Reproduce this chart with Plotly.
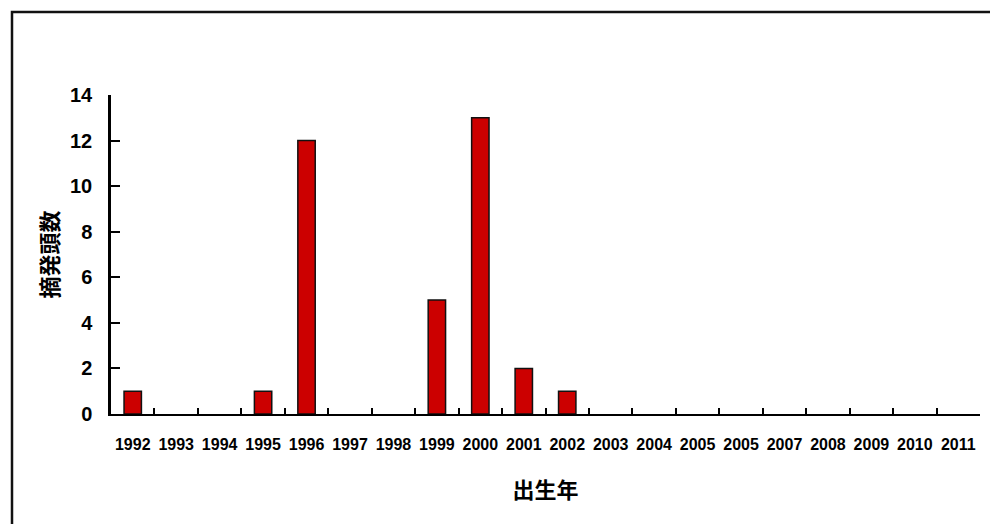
import plotly.graph_objects as go

years = ["1992", "1993", "1994", "1995", "1996", "1997", "1998", "1999", "2000", "2001",
         "2002", "2003", "2004", "2005", "2006", "2007", "2008", "2009", "2010", "2011"]
tick_labels = ["1992", "1993", "1994", "1995", "1996", "1997", "1998", "1999", "2000", "2001",
               "2002", "2003", "2004", "2005", "2005", "2007", "2008", "2009", "2010", "2011"]
counts = [1, 0, 0, 1, 12, 0, 0, 5, 13, 2, 1, 0, 0, 0, 0, 0, 0, 0, 0, 0]
y_ticks = [0, 2, 4, 6, 8, 10, 12, 14]

W, H = 990, 524
ML, MR, MT, MB = 111, 10, 95, 110
PW, PH = W - ML - MR, H - MT - MB

outline = [1.5 if c > 0 else 0 for c in counts]

fig = go.Figure(go.Bar(
    x=years, y=counts, width=0.4,
    marker=dict(color="#CC0000", line=dict(color="#111111", width=outline)),
))

tick_font = dict(family="Liberation Sans, Arial", size=16, color="black", weight="bold")

fig.update_layout(
    width=W, height=H,
    margin=dict(l=ML, r=MR, t=MT, b=MB, pad=0),
    paper_bgcolor="white", plot_bgcolor="white",
    showlegend=False,
    xaxis=dict(
        type="category", tickmode="array", tickvals=years, ticktext=tick_labels,
        tickson="boundaries", ticks="inside", ticklen=6, tickwidth=2, tickcolor="black",
        showline=True, linecolor="black", linewidth=2, showgrid=False, zeroline=False,
        tickfont=tick_font, ticklabelstandoff=15, tickangle=0, automargin=False,
        title=dict(text="出生年", standoff=30,
                   font=dict(family="Noto Sans CJK JP", size=22, color="black", weight="bold")),
    ),
    yaxis=dict(
        range=[0, 14], tickmode="array", tickvals=y_ticks, automargin=False,
        ticks="inside", ticklen=9, tickwidth=2, tickcolor="black",
        showline=True, linecolor="black", linewidth=2.5, showgrid=False, zeroline=False,
        tickfont=dict(family="Liberation Sans, Arial", size=20, color="black", weight="bold"),
        ticklabelstandoff=12,
        title=dict(text="摘発頭数", standoff=6,
                   font=dict(family="Noto Sans CJK JP", size=22, color="black", weight="bold")),
    ),
    shapes=[dict(
        type="rect", xref="paper", yref="paper",
        x0=(12 - ML) / PW, x1=1.2,
        y0=-0.6, y1=1 + (MT - 12) / PH,
        line=dict(color="#111111", width=2.5), fillcolor="rgba(0,0,0,0)", layer="below",
    )],
)

fig.write_html("out.html", config={"displayModeBar": False})

with open("out.html", "r", encoding="utf-8") as f:
    html = f.read()
html = html.replace("<head>", "<head><style>html,body{margin:0;padding:0;overflow:hidden;}</style>", 1)
with open("out.html", "w", encoding="utf-8") as f:
    f.write(html)
